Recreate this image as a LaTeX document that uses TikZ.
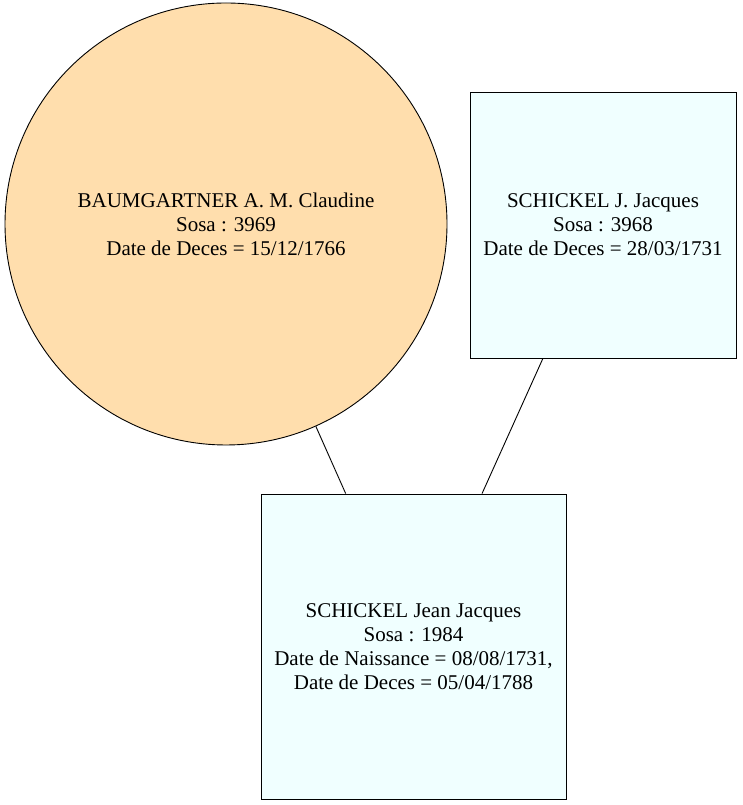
\documentclass[tikz,border=0pt]{standalone}
\usepackage{fontspec}
\setmainfont{Liberation Serif}
\definecolor{navwhite}{HTML}{FFDEAD}
\definecolor{azurec}{HTML}{F0FFFF}
\begin{document}
\begin{tikzpicture}[x=1pt,y=1pt,
  person/.style={draw=black, line width=0.9pt, align=center, inner sep=0pt,
    font=\fontsize{21}{24}\selectfont},
  femme/.style={person, circle, fill=navwhite, minimum size=442pt},
  homme/.style={person, rectangle, fill=azurec},
  link/.style={draw=black, line width=0.9pt}]
\useasboundingbox (0,0) rectangle (742,805);
\node[femme] (baum) at (226,581) {BAUMGARTNER A. M. Claudine\\Sosa : 3969\\Date de Deces = 15/12/1766};
\node[homme, minimum width=266pt, minimum height=266pt] (jacq) at (603,580) {SCHICKEL J. Jacques\\Sosa : 3968\\Date de Deces = 28/03/1731};
\node[homme, minimum width=305pt, minimum height=305pt] (jean) at (413.5,158.5) {SCHICKEL Jean Jacques\\Sosa : 1984\\Date de Naissance = 08/08/1731,\\Date de Deces = 05/04/1788};
\draw[link] (baum) -- (jean);
\draw[link] (jacq) -- (jean);
\end{tikzpicture}
\end{document}
